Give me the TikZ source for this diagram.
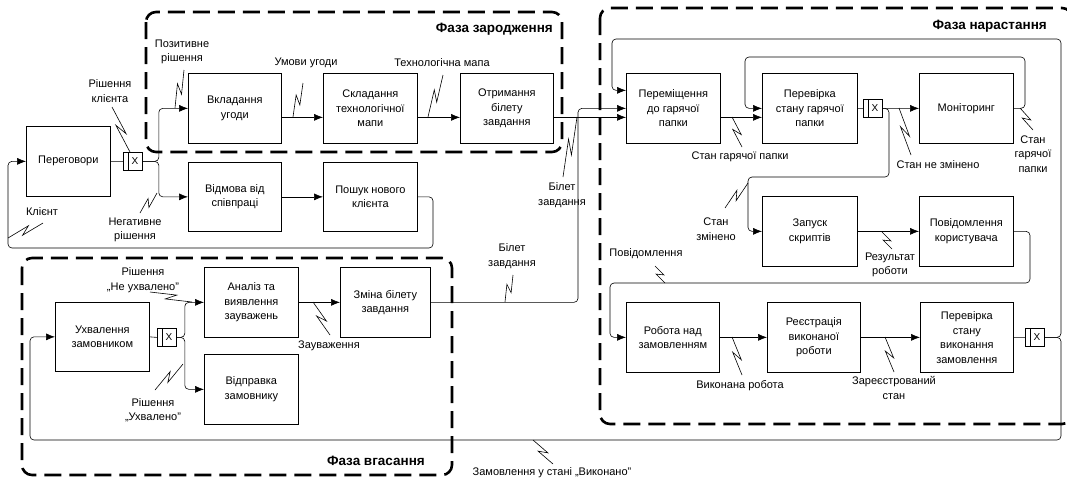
\documentclass[tikz,border=0pt]{standalone}
\usepackage{fontspec}
\setmainfont{Liberation Sans}
\usetikzlibrary{calc,arrows.meta}
\tikzset{
  proc/.style={draw, line width=0.7pt, inner sep=1pt, align=center, font=\fontsize{11}{14.5}\selectfont, anchor=north west, minimum width=94pt, minimum height=70pt},
  gate/.style={draw, line width=0.8pt, minimum width=19pt, minimum height=18pt, inner sep=0pt, anchor=north west,
    path picture={\draw[line width=0.8pt] ([xshift=4.5pt]path picture bounding box.north west) -- ([xshift=4.5pt]path picture bounding box.south west);}},
  gx/.style={font=\fontsize{10}{10}\selectfont, inner sep=0pt},
  conn/.style={draw, line width=0.6pt, rounded corners=4pt},
  arr/.style={-{Latex[length=9pt,width=7pt]}},
  lbl/.style={align=center, font=\fontsize{11}{14.5}\selectfont, inner sep=0pt},
  sq/.style={draw, line width=0.6pt},
  phase/.style={draw, line width=2.6pt, dash pattern=on 17pt off 8pt, rounded corners=10pt},
  ptitle/.style={font=\fontsize{13.5}{16}\selectfont\bfseries, inner sep=0pt, anchor=east},
}
\newcommand\squig[3]{%
  \coordinate (#1a) at (#2);
  \coordinate (#1b) at (#3);
  \draw[sq] (#1a) -- ($(#1a)!0.62!(#1b)!3.2pt!90:(#1b)$) -- ($(#1a)!0.38!(#1b)!3.2pt!-90:(#1b)$) -- (#1b);}
\begin{document}
\begin{tikzpicture}[x=1pt,y=-1pt]
\useasboundingbox (0,0) rectangle (1067,483);
% phases
\draw[phase] (146,12) rectangle (562,152);
\draw[phase] (600,8) rectangle (1072,424);
\draw[phase] (22,258) rectangle (452,475);
\node[ptitle] (t1) at (553,29) {Фаза зародження};
\node[ptitle] (t2) at (1047,26) {Фаза нарастання};
\node[ptitle] (t3) at (425,461) {Фаза вгасання};
% boxes
\node[proc, minimum width=84pt] (neg) at (26,126) {Переговори};
\node[proc, minimum width=93pt] (vkl) at (188,73) {Вкладання\\угоди};
\node[proc, minimum width=93pt, minimum height=69pt] (vidm) at (188,162) {Відмова від\\співпраці};
\node[proc] (skl) at (323,73) {Складання\\технологічної\\мапи};
\node[proc, minimum height=69pt] (posh) at (323,162) {Пошук нового\\клієнта};
\node[proc, minimum width=93pt] (otr) at (460,73) {Отримання\\білету\\завдання};
\node[proc] (perem) at (626,73) {Переміщення\\до гарячої\\папки};
\node[proc, minimum width=95pt] (perev) at (762,73) {Перевірка\\стану гарячої\\папки};
\node[proc] (mon) at (919,73) {Моніторинг};
\node[proc, minimum width=95pt] (zap) at (762,196) {Запуск\\скриптів};
\node[proc] (povid) at (919,196) {Повідомлення\\користувача};
\node[proc, minimum width=93pt] (rob) at (626,302) {Робота над\\замовленням};
\node[proc, minimum width=93pt] (reestr) at (767,302) {Реєстрація\\виконаної\\роботи};
\node[proc, minimum width=93pt] (perevvyk) at (920,302) {Перевірка\\стану\\виконання\\замовлення};
\node[proc, minimum height=69pt] (uhv) at (55,302) {Ухвалення\\замовником};
\node[proc] (anal) at (204,267) {Аналіз та\\виявлення\\зауважень};
\node[proc] (vidpr) at (204,354) {Відправка\\замовнику};
\node[proc, minimum width=90pt] (zmina) at (340,267) {Зміна білету\\завдання};
% gates
\node[gate] (g1) at (123,152) {};
\node[gx] (g1x) at ($(g1.center)+(2,0)$) {X};
\node[gate] (g2) at (863,99) {};
\node[gx] (g2x) at ($(g2.center)+(2,0)$) {X};
\node[gate] (g3) at (1025,328) {};
\node[gx] (g3x) at ($(g3.center)+(2,0)$) {X};
\node[gate] (g4) at (157,328) {};
\node[gx] (g4x) at ($(g4.center)+(2,0)$) {X};
% connectors
\draw[conn] (neg.east) -- (g1.west);
\draw[conn,arr] (g1.east) -- ++(16,0) |- (vkl.west);
\draw[conn,arr] (g1.east) -- ++(16,0) |- (vidm.west);
\draw[conn,arr] ([yshift=-9pt]vkl.east) -- ([yshift=-9pt]skl.west);
\draw[conn,arr] ([yshift=-9pt]skl.east) -- ([yshift=-9pt]otr.west);
\draw[conn,arr] ([yshift=-9pt]otr.east) -- ([yshift=-9pt]perem.west);
\draw[conn,arr] (zmina.east) -| ($(perem.west)+(-48,0)$) -- (perem.west);
\draw[conn,arr] (g3.east) -| (1061,39) -| ($(perem.west)+(-14,-18)$) -- ($(perem.west)+(0,-18)$);
\draw[conn,arr] (g3.east) -| (1061,440) -| ($(uhv.west)+(-25,0)$) -- (uhv.west);
\draw[conn,arr] ([yshift=-9pt]perem.east) -- ([yshift=-9pt]perev.west);
\draw[conn,arr] (mon.east) -| (1025,57) -| ($(perev.west)+(-17,0)$) -- (perev.west);
\draw[conn] (perev.east) -- (g2.west);
\draw[conn,arr] (g2.east) -- (mon.west);
\draw[conn,arr] (g2.east) -| (889,177) -| ($(zap.west)+(-14,0)$) -- (zap.west);
\draw[conn,arr] (zap.east) -- (povid.west);
\draw[conn,arr] (povid.east) -| (1030,283) -| ($(rob.west)+(-16,0)$) -- (rob.west);
\draw[conn,arr] (rob.east) -- (reestr.west);
\draw[conn,arr] (reestr.east) -- (perevvyk.west);
\draw[conn] (perevvyk.east) -- (g3.west);
\draw[conn,arr] (posh.east) -| (433,248) -| ($(neg.west)+(-18,0)$) -- (neg.west);
\draw[conn,arr] (vidm.east) -- (posh.west);
\draw[conn] (uhv.east) -- (g4.west);
\draw[conn,arr] (g4.east) -- ++(8,0) |- (anal.west);
\draw[conn,arr] (g4.east) -- ++(8,0) |- (vidpr.west);
\draw[conn,arr] (anal.east) -- (zmina.west);
% labels
\node[lbl] (l1) at (110,91) {Рішення\\клієнта};
\node[lbl] (l2) at (182,52) {Позитивне\\рішення};
\node[lbl] (l3) at (135,230) {Негативне\\рішення};
\node[lbl] (l4) at (306,63) {Умови угоди};
\node[lbl] (l5) at (442,63) {Технологічна мапа};
\node[lbl] (l6) at (562,195) {Білет\\завдання};
\node[lbl] (l7) at (740,157) {Стан гарячої папки};
\node[lbl] (l8) at (1033,154) {Стан\\гарячої\\папки};
\node[lbl] (l9) at (938,165) {Стан не змінено};
\node[lbl] (l10) at (716,229) {Стан\\змінено};
\node[lbl] (l11) at (890,265) {Результат\\роботи};
\node[lbl] (l12) at (646,254) {Повідомлення};
\node[lbl] (l13) at (740,386) {Виконана робота};
\node[lbl] (l14) at (894,388) {Зареєстрований\\стан};
\node[lbl] (l15) at (512,256) {Білет\\завдання};
\node[lbl] (l16) at (329,346) {Зауваження};
\node[lbl] (l17) at (143,280) {Рішення\\„Не ухвалено”};
\node[lbl] (l18) at (153,410) {Рішення\\„Ухвалено”};
\node[lbl] (l19) at (42,212) {Клієнт};
\node[lbl] (l20) at (552,473) {Замовлення у стані „Виконано”};
% squiggles
\squig{s1}{130,152}{112,107}
\squig{s2}{175,108}{184,70}
\squig{s3}{157,193}{140,213}
\squig{s4}{293,117}{303,83}
\squig{s5}{428,117}{443,75}
\squig{s6}{577,117}{563,177}
\squig{s7}{732,117}{742,147}
\squig{s8}{1020,108}{1033,130}
\squig{s9}{899,108}{911,155}
\squig{s10}{748,183}{725,208}
\squig{s11}{882,232}{892,249}
\squig{s12}{665,283}{655,266}
\squig{s13}{732,337}{742,375}
\squig{s14}{885,337}{894,372}
\squig{s15}{505,302}{513,275}
\squig{s16}{313,302}{330,335}
\squig{s17}{192,302}{150,292}
\squig{s18}{183,364}{155,390}
\squig{s19}{8,238}{43,223}
\squig{s20}{533,440}{553,464}
\end{tikzpicture}
\end{document}
